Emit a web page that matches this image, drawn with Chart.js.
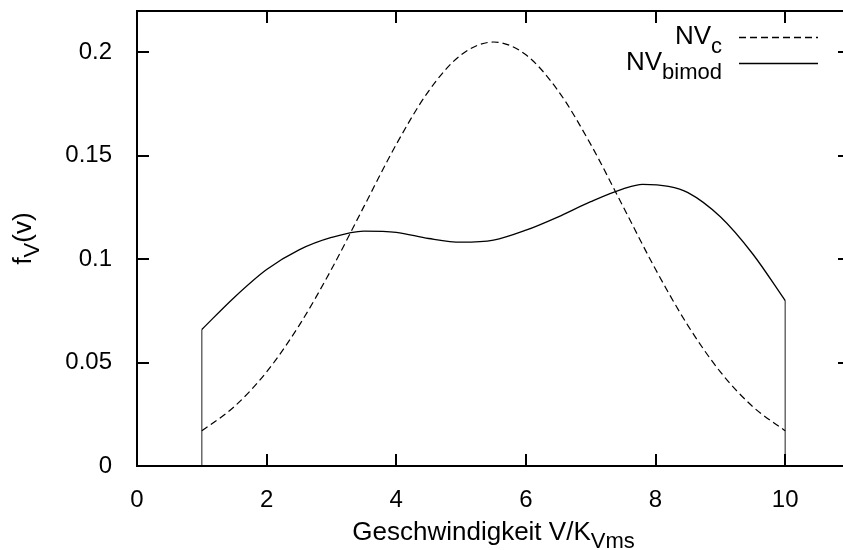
<!DOCTYPE html>
<html>
<head>
<meta charset="utf-8">
<script src="https://cdn.jsdelivr.net/npm/chart.js@4/dist/chart.umd.min.js"></script>
<style>
  html, body { margin: 0; padding: 0; background: #fff; overflow: hidden; }
  canvas { display: block; }
</style>
</head>
<body>
<canvas id="dist" width="860" height="550"></canvas>
<script>
// speed values (V/K_Vms) and densities f_V(v)
var speedC = [1, 1.5, 2, 2.5, 3, 3.5, 4, 4.5, 5, 5.5, 6, 6.5, 7, 7.5, 8, 8.5, 9, 9.5, 10];
var nvC = [0.0170, 0.0287, 0.0455, 0.0679, 0.0951, 0.1254, 0.1555, 0.1813, 0.1988, 0.2050,
           0.1988, 0.1813, 0.1555, 0.1254, 0.0951, 0.0679, 0.0455, 0.0287, 0.0170];

var speedBimod = [1, 1.5, 2, 2.5, 3, 3.5, 4, 4.5, 5, 5.5, 6, 6.5, 7, 7.5, 7.8, 8.2, 8.5, 9, 9.5, 10];
var nvBimod = [0.0660, 0.0815, 0.0950, 0.1045, 0.1105, 0.1136, 0.1130, 0.1100, 0.1082, 0.1092,
               0.1140, 0.1205, 0.1278, 0.1340, 0.1362, 0.1352, 0.1322, 0.1205, 0.1025, 0.0800];

var legendNames = [['NV', 'c'], ['NV', 'bimod']];
var xTitle = ['Geschwindigkeit V/K', 'Vms'];
var yTitle = ['f', 'V', '(v)'];

var FONT = '"Liberation Sans", Arial, sans-serif';

function pts(xs, ys) {
  return xs.map(function (x, i) { return { x: x, y: ys[i] }; });
}

// keep chart area fixed: no extra room for half-labels
function noPad(scale) {
  scale.paddingTop = 0;
  scale.paddingBottom = 0;
  scale.paddingLeft = 0;
  scale.paddingRight = 0;
}

var lastB = speedBimod.length - 1;

// inward ticks on all four sides, frame, titles and the key
var gnuFrame = {
  id: 'gnuFrame',
  afterDraw: function (chart) {
    var ctx = chart.ctx, a = chart.chartArea;
    var sx = chart.scales.x, sy = chart.scales.y;
    var tl = 12;
    ctx.save();
    ctx.strokeStyle = '#000';
    ctx.lineWidth = 2;
    ctx.strokeRect(a.left, a.top, a.right - a.left, a.bottom - a.top);
    ctx.beginPath();
    sx.ticks.forEach(function (t) {
      var px = Math.round(sx.getPixelForValue(t.value));
      ctx.moveTo(px, a.bottom); ctx.lineTo(px, a.bottom - tl);
      ctx.moveTo(px, a.top); ctx.lineTo(px, a.top + tl);
    });
    sy.ticks.forEach(function (t) {
      var py = Math.round(sy.getPixelForValue(t.value));
      ctx.moveTo(a.left, py); ctx.lineTo(a.left + tl, py);
      ctx.moveTo(a.right, py); ctx.lineTo(a.right - tl, py);
    });
    ctx.stroke();

    ctx.fillStyle = '#000';
    ctx.textBaseline = 'alphabetic';

    // x title with subscript
    var big = '26px ' + FONT, small = '22px ' + FONT;
    ctx.font = big;
    var w1 = ctx.measureText(xTitle[0]).width;
    ctx.font = small;
    var w2 = ctx.measureText(xTitle[1]).width;
    var x0 = (a.left + a.right) / 2 - (w1 + w2) / 2;
    ctx.textAlign = 'left';
    ctx.font = big;
    ctx.fillText(xTitle[0], x0, 540);
    ctx.font = small;
    ctx.fillText(xTitle[1], x0 + w1, 548);

    // y title, rotated
    ctx.save();
    ctx.translate(31, (a.top + a.bottom) / 2);
    ctx.rotate(-Math.PI / 2);
    ctx.font = big;
    var wa = ctx.measureText(yTitle[0]).width;
    var wc = ctx.measureText(yTitle[2]).width;
    ctx.font = small;
    var wb = ctx.measureText(yTitle[1]).width;
    var s = -(wa + wb + wc) / 2;
    ctx.font = big;
    ctx.fillText(yTitle[0], s, 0);
    ctx.font = small;
    ctx.fillText(yTitle[1], s + wa, 8);
    ctx.font = big;
    ctx.fillText(yTitle[2], s + wa + wb, 0);
    ctx.restore();

    // key
    var rows = [37, 63];
    legendNames.forEach(function (nm, i) {
      var base = rows[i] + 7;
      ctx.font = small;
      var ws = ctx.measureText(nm[1]).width;
      ctx.font = big;
      var wm = ctx.measureText(nm[0]).width;
      var right = 722;
      ctx.fillText(nm[0], right - ws - wm, base);
      ctx.font = small;
      ctx.fillText(nm[1], right - ws, base + 9);
      var ds = chart.data.datasets[i];
      ctx.lineWidth = 1.3;
      ctx.setLineDash(ds.borderDash || []);
      ctx.beginPath();
      ctx.moveTo(739, rows[i] + 0.5);
      ctx.lineTo(818, rows[i] + 0.5);
      ctx.stroke();
      ctx.setLineDash([]);
    });
    ctx.restore();
  }
};

new Chart(document.getElementById('dist').getContext('2d'), {
  type: 'scatter',
  data: {
    datasets: [
      {
        label: 'NVc',
        data: pts(speedC, nvC),
        showLine: true,
        borderColor: '#000',
        borderWidth: 1.2,
        borderDash: [7, 4],
        pointRadius: 0,
        cubicInterpolationMode: 'monotone'
      },
      {
        label: 'NVbimod',
        data: pts(speedBimod, nvBimod),
        showLine: true,
        borderColor: '#000',
        borderWidth: 1.3,
        pointRadius: 0,
        cubicInterpolationMode: 'monotone'
      },
      {
        label: 'edgeL',
        data: [{ x: speedBimod[0], y: 0 }, { x: speedBimod[0], y: nvBimod[0] }],
        showLine: true,
        borderColor: '#444',
        borderWidth: 1.2,
        pointRadius: 0
      },
      {
        label: 'edgeR',
        data: [{ x: speedBimod[lastB], y: 0 }, { x: speedBimod[lastB], y: nvBimod[lastB] }],
        showLine: true,
        borderColor: '#444',
        borderWidth: 1.2,
        pointRadius: 0
      }
    ]
  },
  options: {
    responsive: false,
    devicePixelRatio: 1,
    animation: false,
    layout: { padding: { left: 0, top: 11, right: 10, bottom: 0 } },
    plugins: {
      legend: { display: false },
      tooltip: { enabled: false }
    },
    scales: {
      x: {
        type: 'linear',
        min: 0,
        max: 11,
        grid: { display: false },
        border: { display: false },
        ticks: {
          stepSize: 2,
          includeBounds: false,
          maxRotation: 0,
          padding: 12,
          color: '#000',
          font: { family: FONT, size: 24 }
        },
        afterFit: function (scale) { scale.height = 84; noPad(scale); }
      },
      y: {
        min: 0,
        max: 0.22,
        grid: { display: false },
        border: { display: false },
        ticks: {
          stepSize: 0.05,
          includeBounds: false,
          padding: 17,
          color: '#000',
          font: { family: FONT, size: 24 },
          callback: function (v) { return String(+v.toFixed(2)); }
        },
        afterFit: function (scale) { scale.width = 137; noPad(scale); }
      }
    }
  },
  plugins: [gnuFrame]
});
</script>
</body>
</html>
